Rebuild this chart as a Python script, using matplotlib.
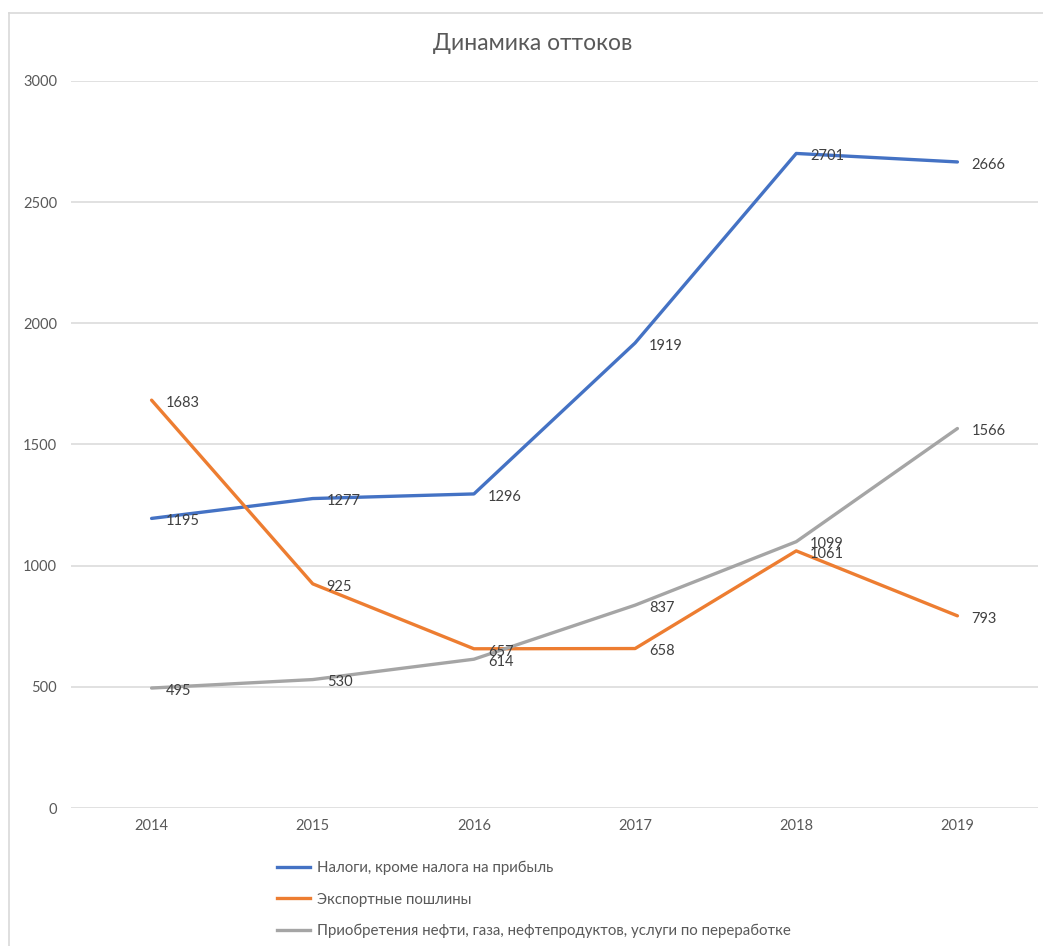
import matplotlib.pyplot as plt
from matplotlib.lines import Line2D

years = ["2014", "2015", "2016", "2017", "2018", "2019"]
taxes = [1195, 1277, 1296, 1919, 2701, 2666]
duties = [1683, 925, 657, 658, 1061, 793]
oil = [495, 530, 614, 837, 1099, 1566]

names = [
    "Налоги, кроме налога на прибыль",
    "Экспортные пошлины",
    "Приобретения нефти, газа, нефтепродуктов, услуги по переработке",
]
colors = ["#4472C4", "#ED7D31", "#A5A5A5"]

plt.rcParams["font.family"] = ["Lato", "DejaVu Sans"]

W, H = 1043, 946
fig = plt.figure(figsize=(W / 100, H / 100), dpi=100)
ax = fig.add_axes([71 / W, 1 - 808 / H, (1038 - 71) / W, (808 - 81) / H])

x = list(range(len(years)))
for vals, color in zip([taxes, duties, oil], colors):
    ax.plot(x, vals, color=color, linewidth=2.4, solid_capstyle="round", zorder=3)
    for xi, v in zip(x, vals):
        ax.annotate(str(v), (xi, v), xytext=(10, -2), textcoords="offset points",
                    ha="left", va="center", fontsize=10.5, color="#404040", zorder=4)

ax.set_xlim(-0.5, len(years) - 0.5)
ax.set_ylim(0, 3000)
ax.set_yticks(range(0, 3001, 500))
ax.set_xticks(x)
ax.set_xticklabels(years)
ax.grid(True, axis="y", color="#D9D9D9", linewidth=1.1)
ax.set_axisbelow(True)
for s in ax.spines.values():
    s.set_visible(False)
ax.tick_params(length=0, labelsize=10.5, labelcolor="#595959")
ax.tick_params(axis="y", pad=10)
ax.tick_params(axis="x", pad=8)

fig.text(533 / W, 1 - 44 / H, "Динамика оттоков", ha="center", va="center",
         fontsize=16.5, color="#595959")

handles = [Line2D([], [], color=c, linewidth=2.4) for c in colors]
fig.legend(handles, names, loc="upper left", bbox_to_anchor=(277 / W, 1 - 861 / H),
           frameon=False, fontsize=10.8, labelcolor="#595959", handlelength=2.2,
           handletextpad=0.45, labelspacing=1.15, borderpad=0, borderaxespad=0)

# chart border (cropped on right and bottom)
fig.add_artist(Line2D([9 / W, 1], [1 - 13 / H, 1 - 13 / H], color="#D9D9D9", linewidth=1.2))
fig.add_artist(Line2D([9 / W, 9 / W], [0, 1 - 13 / H], color="#D9D9D9", linewidth=1.2))

fig.savefig("out.png", dpi=100)
